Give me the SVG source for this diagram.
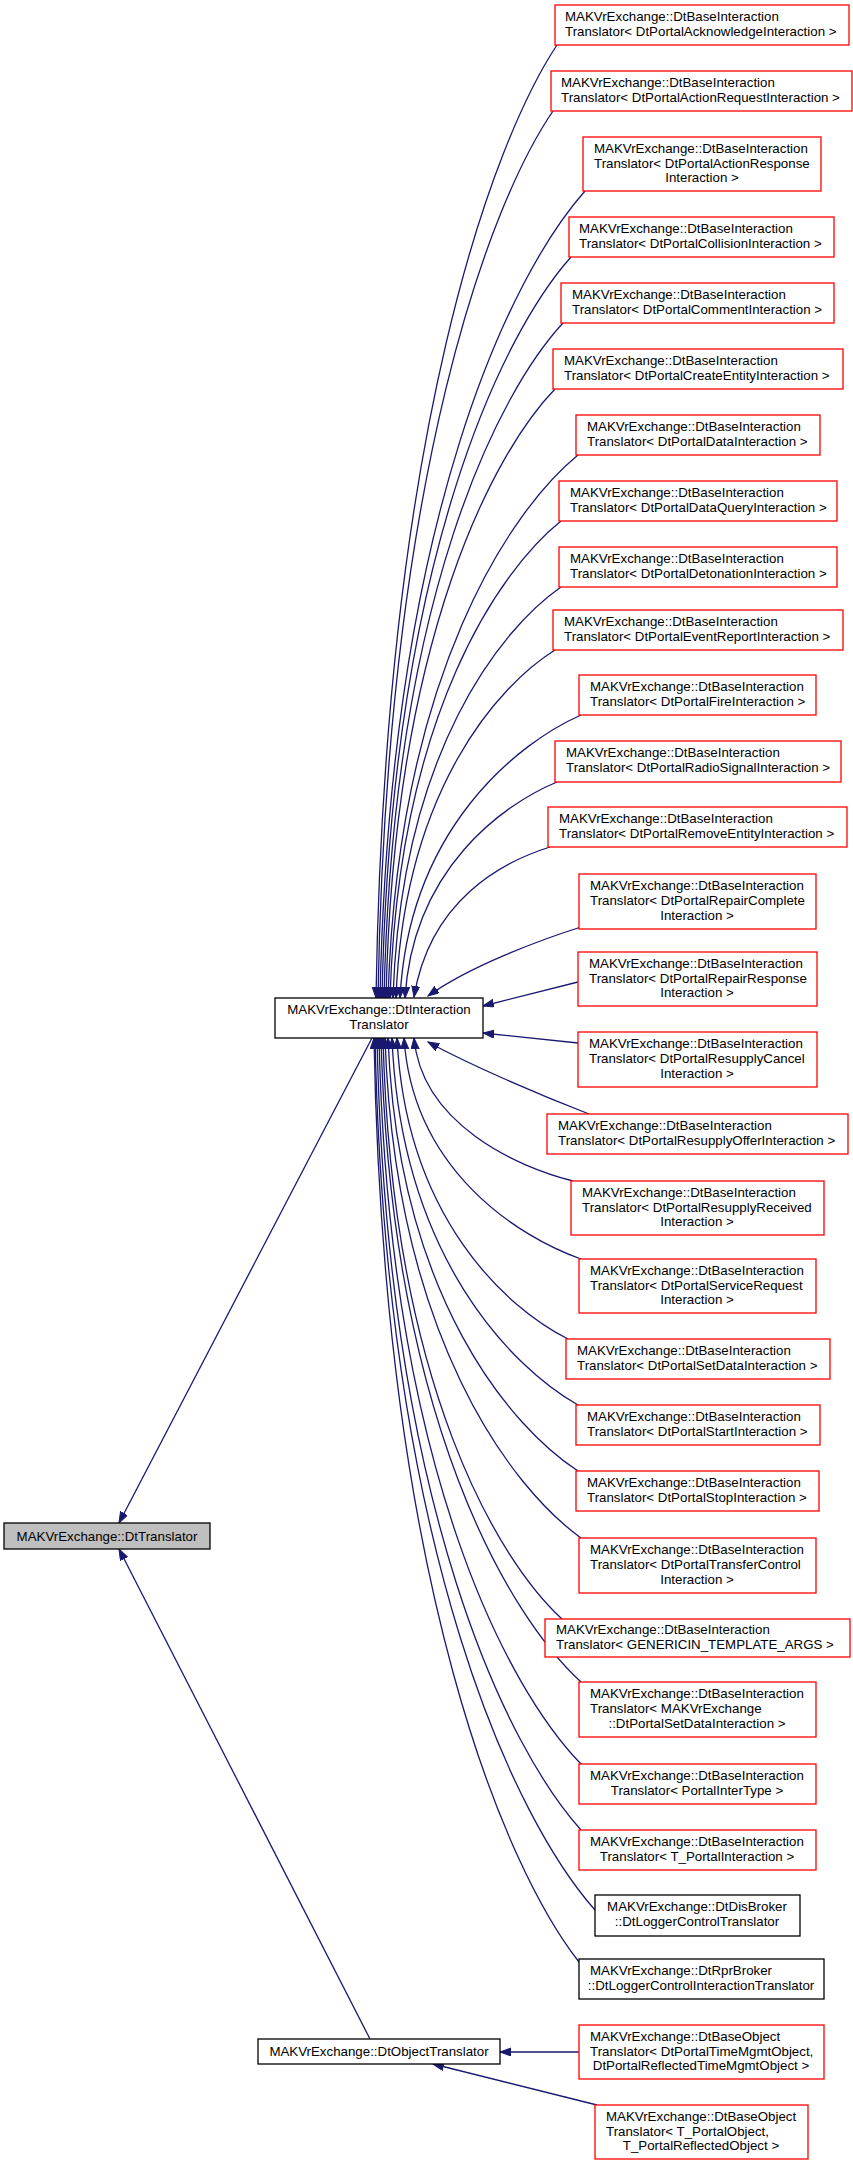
<svg xmlns="http://www.w3.org/2000/svg" width="853" height="2165" viewBox="0 0 853 2165">
<style>
text{font-family:"Liberation Sans",Arial,sans-serif;font-size:13.3px;fill:#000}
.r{fill:#fff;stroke:#ff0000;stroke-width:1.3}
.k{fill:#fff;stroke:#000;stroke-width:1.3}
.g{fill:#bfbfbf;stroke:#000;stroke-width:1.3}
.m{text-anchor:middle}
#edges path{fill:none;stroke:#191970;stroke-width:1.3;marker-end:url(#ah)}
</style>
<defs><marker id="ah" markerUnits="userSpaceOnUse" markerWidth="12" markerHeight="9" refX="11" refY="4" orient="auto"><path d="M0,0 L11,4 L0,8 z" fill="#191970" stroke="#191970"/></marker></defs>
<rect width="853" height="2165" fill="#fff"/>
<g id="edges">
<path d="M557,45 C494,140 385,426 376,998"/>
<path d="M553,111 C492,200 387,466 378,998"/>
<path d="M585,191 C513,272 390,514 380,998"/>
<path d="M571,257 C505,331 391,553 382,998"/>
<path d="M563,323 C500,391 393,593 384,998"/>
<path d="M555,389 C496,450 394,633 386,998"/>
<path d="M578,455 C512,509 398,672 388,998"/>
<path d="M561,521 C501,569 399,712 390,998"/>
<path d="M561,587 C502,628 401,751 393,998"/>
<path d="M555,650 C499,685 404,789 396,998"/>
<path d="M581,715 C518,743 409,828 400,998"/>
<path d="M557,782 C504,804 413,868 405,998"/>
<path d="M550,847 C502,862 430,900 414,997"/>
<path d="M581,927 C540,940 470,966 428,996"/>
<path d="M578,982 L483,1006"/>
<path d="M578,1043 L483,1033"/>
<path d="M589,1114 C540,1095 470,1065 428,1042"/>
<path d="M573,1181 C517,1167 422,1124 414,1038"/>
<path d="M581,1259 C519,1237 413,1171 404,1038"/>
<path d="M568,1339 C508,1309 406,1219 397,1038"/>
<path d="M578,1405 C513,1368 401,1258 392,1038"/>
<path d="M578,1471 C512,1428 398,1298 388,1038"/>
<path d="M581,1538 C512,1488 395,1338 385,1038"/>
<path d="M562,1619 C499,1561 392,1387 383,1038"/>
<path d="M581,1682 C511,1618 391,1424 381,1038"/>
<path d="M581,1764 C510,1691 389,1474 379,1038"/>
<path d="M581,1830 C510,1751 387,1513 377,1038"/>
<path d="M595,1910 C518,1823 386,1561 375,1038"/>
<path d="M579,1962 C507,1870 384,1592 374,1038"/>
<path d="M372,1038 L119,1523"/>
<path d="M370,2039 L119,1549"/>
<path d="M579,2052 L500,2052"/>
<path d="M597,2105 L433,2064"/>
</g>
<g id="n1"><rect class="r" x="555" y="5" width="294" height="40"/><text x="565" y="21">MAKVrExchange::DtBaseInteraction</text><text x="565" y="36">Translator&lt; DtPortalAcknowledgeInteraction &gt;</text></g>
<g id="n2"><rect class="r" x="551" y="71" width="301" height="40"/><text x="561" y="87">MAKVrExchange::DtBaseInteraction</text><text x="561" y="102">Translator&lt; DtPortalActionRequestInteraction &gt;</text></g>
<g id="n3"><rect class="r" x="583" y="137" width="238" height="54"/><text x="594" y="153">MAKVrExchange::DtBaseInteraction</text><text x="594" y="168">Translator&lt; DtPortalActionResponse</text><text class="m" x="702" y="182">Interaction &gt;</text></g>
<g id="n4"><rect class="r" x="569" y="217" width="265" height="40"/><text x="579" y="233">MAKVrExchange::DtBaseInteraction</text><text x="579" y="248">Translator&lt; DtPortalCollisionInteraction &gt;</text></g>
<g id="n5"><rect class="r" x="561" y="283" width="273" height="40"/><text x="572" y="299">MAKVrExchange::DtBaseInteraction</text><text x="572" y="314">Translator&lt; DtPortalCommentInteraction &gt;</text></g>
<g id="n6"><rect class="r" x="553" y="349" width="290" height="40"/><text x="564" y="365">MAKVrExchange::DtBaseInteraction</text><text x="564" y="380">Translator&lt; DtPortalCreateEntityInteraction &gt;</text></g>
<g id="n7"><rect class="r" x="576" y="415" width="244" height="40"/><text x="587" y="431">MAKVrExchange::DtBaseInteraction</text><text x="587" y="446">Translator&lt; DtPortalDataInteraction &gt;</text></g>
<g id="n8"><rect class="r" x="559" y="481" width="278" height="40"/><text x="570" y="497">MAKVrExchange::DtBaseInteraction</text><text x="570" y="512">Translator&lt; DtPortalDataQueryInteraction &gt;</text></g>
<g id="n9"><rect class="r" x="559" y="547" width="278" height="40"/><text x="570" y="563">MAKVrExchange::DtBaseInteraction</text><text x="570" y="578">Translator&lt; DtPortalDetonationInteraction &gt;</text></g>
<g id="n10"><rect class="r" x="553" y="610" width="290" height="40"/><text x="564" y="626">MAKVrExchange::DtBaseInteraction</text><text x="564" y="641">Translator&lt; DtPortalEventReportInteraction &gt;</text></g>
<g id="n11"><rect class="r" x="579" y="675" width="237" height="40"/><text x="590" y="691">MAKVrExchange::DtBaseInteraction</text><text x="590" y="706">Translator&lt; DtPortalFireInteraction &gt;</text></g>
<g id="n12"><rect class="r" x="555" y="741" width="286" height="41"/><text x="566" y="757">MAKVrExchange::DtBaseInteraction</text><text x="566" y="772">Translator&lt; DtPortalRadioSignalInteraction &gt;</text></g>
<g id="n13"><rect class="r" x="548" y="807" width="299" height="40"/><text x="559" y="823">MAKVrExchange::DtBaseInteraction</text><text x="559" y="838">Translator&lt; DtPortalRemoveEntityInteraction &gt;</text></g>
<g id="n14"><rect class="r" x="579" y="874" width="237" height="55"/><text x="590" y="890">MAKVrExchange::DtBaseInteraction</text><text x="590" y="905">Translator&lt; DtPortalRepairComplete</text><text class="m" x="697" y="920">Interaction &gt;</text></g>
<g id="n15"><rect class="r" x="578" y="952" width="239" height="54"/><text x="589" y="968">MAKVrExchange::DtBaseInteraction</text><text x="589" y="983">Translator&lt; DtPortalRepairResponse</text><text class="m" x="697" y="997">Interaction &gt;</text></g>
<g id="n16"><rect class="r" x="578" y="1032" width="239" height="55"/><text x="589" y="1048">MAKVrExchange::DtBaseInteraction</text><text x="589" y="1063">Translator&lt; DtPortalResupplyCancel</text><text class="m" x="697" y="1078">Interaction &gt;</text></g>
<g id="n17"><rect class="r" x="547" y="1114" width="301" height="40"/><text x="558" y="1130">MAKVrExchange::DtBaseInteraction</text><text x="558" y="1145">Translator&lt; DtPortalResupplyOfferInteraction &gt;</text></g>
<g id="n18"><rect class="r" x="571" y="1181" width="253" height="54"/><text x="582" y="1197">MAKVrExchange::DtBaseInteraction</text><text x="582" y="1212">Translator&lt; DtPortalResupplyReceived</text><text class="m" x="697" y="1226">Interaction &gt;</text></g>
<g id="n19"><rect class="r" x="579" y="1259" width="237" height="54"/><text x="590" y="1275">MAKVrExchange::DtBaseInteraction</text><text x="590" y="1290">Translator&lt; DtPortalServiceRequest</text><text class="m" x="697" y="1304">Interaction &gt;</text></g>
<g id="n20"><rect class="r" x="566" y="1339" width="264" height="40"/><text x="577" y="1355">MAKVrExchange::DtBaseInteraction</text><text x="577" y="1370">Translator&lt; DtPortalSetDataInteraction &gt;</text></g>
<g id="n21"><rect class="r" x="576" y="1405" width="244" height="40"/><text x="587" y="1421">MAKVrExchange::DtBaseInteraction</text><text x="587" y="1436">Translator&lt; DtPortalStartInteraction &gt;</text></g>
<g id="n22"><rect class="r" x="576" y="1471" width="243" height="40"/><text x="587" y="1487">MAKVrExchange::DtBaseInteraction</text><text x="587" y="1502">Translator&lt; DtPortalStopInteraction &gt;</text></g>
<g id="n23"><rect class="r" x="579" y="1538" width="237" height="55"/><text x="590" y="1554">MAKVrExchange::DtBaseInteraction</text><text x="590" y="1569">Translator&lt; DtPortalTransferControl</text><text class="m" x="697" y="1584">Interaction &gt;</text></g>
<g id="n24"><rect class="r" x="545" y="1619" width="305" height="38"/><text x="556" y="1634">MAKVrExchange::DtBaseInteraction</text><text x="556" y="1649">Translator&lt; GENERICIN_TEMPLATE_ARGS &gt;</text></g>
<g id="n25"><rect class="r" x="579" y="1682" width="237" height="55"/><text x="590" y="1698">MAKVrExchange::DtBaseInteraction</text><text x="590" y="1713">Translator&lt; MAKVrExchange</text><text class="m" x="697" y="1728">::DtPortalSetDataInteraction &gt;</text></g>
<g id="n26"><rect class="r" x="579" y="1764" width="237" height="40"/><text x="590" y="1780">MAKVrExchange::DtBaseInteraction</text><text class="m" x="697" y="1795">Translator&lt; PortalInterType &gt;</text></g>
<g id="n27"><rect class="r" x="579" y="1830" width="237" height="40"/><text x="590" y="1846">MAKVrExchange::DtBaseInteraction</text><text class="m" x="697" y="1861">Translator&lt; T_PortalInteraction &gt;</text></g>
<g id="n28"><rect class="k" x="595" y="1895" width="205" height="41"/><text class="m" x="697" y="1911">MAKVrExchange::DtDisBroker</text><text class="m" x="697" y="1926">::DtLoggerControlTranslator</text></g>
<g id="n29"><rect class="k" x="579" y="1959" width="245" height="40"/><text x="590" y="1975">MAKVrExchange::DtRprBroker</text><text class="m" x="701" y="1990">::DtLoggerControlInteractionTranslator</text></g>
<g id="n30"><rect class="r" x="579" y="2025" width="245" height="54"/><text x="590" y="2041">MAKVrExchange::DtBaseObject</text><text x="590" y="2056">Translator&lt; DtPortalTimeMgmtObject,</text><text class="m" x="701" y="2070">DtPortalReflectedTimeMgmtObject &gt;</text></g>
<g id="n31"><rect class="r" x="595" y="2105" width="213" height="54"/><text x="606" y="2121">MAKVrExchange::DtBaseObject</text><text x="606" y="2136">Translator&lt; T_PortalObject,</text><text class="m" x="701" y="2150">T_PortalReflectedObject &gt;</text></g>
<g id="dtinteraction"><rect class="k" x="275" y="998" width="208" height="40"/><text class="m" x="379" y="1014">MAKVrExchange::DtInteraction</text><text class="m" x="379" y="1029">Translator</text></g>
<g id="dttranslator"><rect class="g" x="4" y="1523" width="206" height="26"/><text class="m" x="107" y="1541">MAKVrExchange::DtTranslator</text></g>
<g id="dtobject"><rect class="k" x="258" y="2039" width="242" height="25"/><text class="m" x="379" y="2056">MAKVrExchange::DtObjectTranslator</text></g>
</svg>
